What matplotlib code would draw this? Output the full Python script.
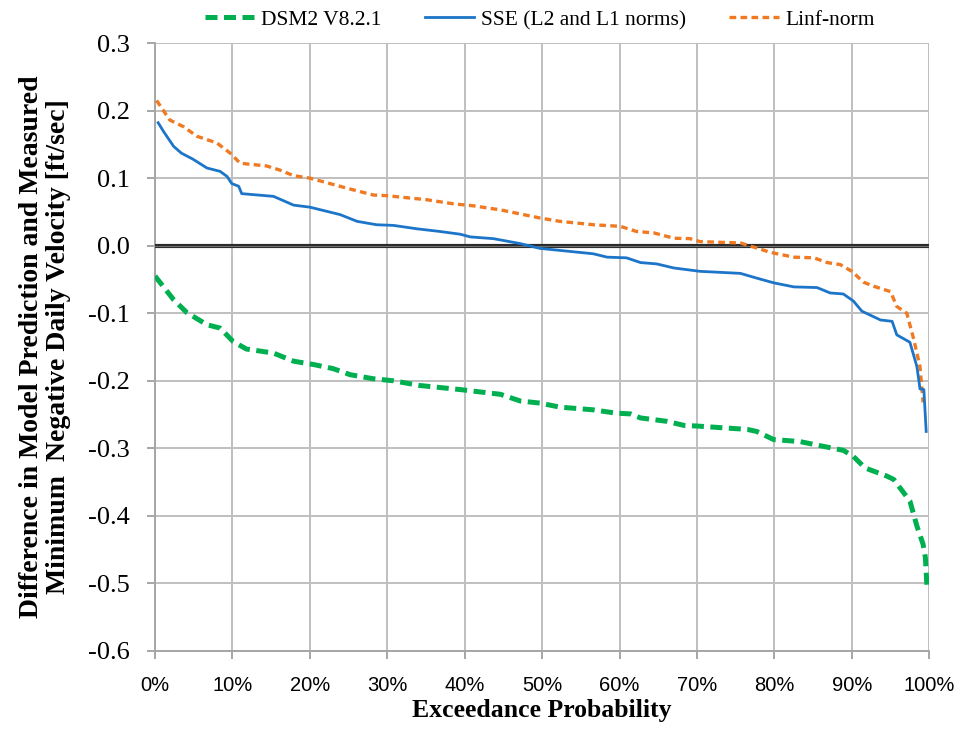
import matplotlib
matplotlib.use("Agg")
import matplotlib.pyplot as plt
from matplotlib.ticker import FuncFormatter, MultipleLocator

# --- data (exceedance probability in %, difference in ft/sec) ---
dsm2_x = [0.0, 2.4, 4.1, 6.7, 8.4, 10.1, 11.8, 15.3, 17.9, 20.5, 23.0, 25.2, 28.2, 30.8,
          34.2, 39.4, 44.6, 47.2, 49.7, 52.3, 56.6, 59.6, 61.4, 62.7, 66.1, 68.3, 70.0,
          76.5, 77.7, 79.9, 83.3, 86.3, 88.9, 90.2, 91.7, 94.5, 95.4, 97.5, 98.4, 99.2,
          99.5, 99.7]
dsm2_y = [-0.045, -0.080, -0.099, -0.117, -0.122, -0.142, -0.153, -0.159, -0.171, -0.176,
          -0.182, -0.191, -0.197, -0.200, -0.207, -0.213, -0.220, -0.230, -0.233, -0.239,
          -0.243, -0.248, -0.249, -0.255, -0.260, -0.266, -0.267, -0.272, -0.275, -0.287,
          -0.290, -0.297, -0.303, -0.312, -0.329, -0.341, -0.346, -0.378, -0.415, -0.442,
          -0.462, -0.505]

sse_x = [0.4, 1.1, 2.4, 3.4, 4.9, 6.7, 8.4, 9.3, 9.9, 10.8, 11.2, 15.3, 17.9, 20.0, 23.9,
         26.1, 28.6, 30.8, 33.8, 36.8, 39.4, 40.7, 43.7, 47.2, 49.7, 52.3, 56.6, 58.4,
         60.9, 62.7, 64.8, 67.0, 70.4, 73.9, 75.6, 77.7, 79.9, 82.5, 85.5, 87.2, 88.9,
         90.2, 91.3, 93.7, 95.2, 95.8, 97.5, 98.4, 98.8, 99.3, 99.6]
sse_y = [0.182, 0.169, 0.147, 0.137, 0.128, 0.115, 0.110, 0.1025, 0.092, 0.088, 0.077,
         0.073, 0.060, 0.057, 0.046, 0.036, 0.031, 0.030, 0.025, 0.021, 0.017, 0.013,
         0.0104, 0.003, -0.004, -0.007, -0.012, -0.017, -0.018, -0.025, -0.027, -0.033,
         -0.038, -0.040, -0.041, -0.048, -0.055, -0.061, -0.062, -0.070, -0.0715, -0.082,
         -0.097, -0.110, -0.112, -0.132, -0.143, -0.179, -0.212, -0.213, -0.275]

linf_x = [0.2, 1.9, 3.7, 5.4, 8.0, 9.7, 11.0, 14.4, 16.1, 17.9, 20.0, 24.8, 28.2, 29.9,
          35.1, 38.5, 41.1, 44.6, 49.7, 52.3, 56.6, 60.1, 62.2, 64.4, 67.0, 69.1, 70.4,
          75.6, 77.3, 79.5, 82.5, 85.1, 86.8, 88.5, 90.0, 91.5, 92.8, 95.0, 95.8, 97.1,
          98.0, 98.8, 99.2]
linf_y = [0.215, 0.186, 0.176, 0.162, 0.152, 0.137, 0.122, 0.118, 0.112, 0.1036, 0.100,
          0.085, 0.075, 0.074, 0.068, 0.062, 0.059, 0.053, 0.041, 0.036, 0.031, 0.0286,
          0.021, 0.019, 0.011, 0.0104, 0.006, 0.004, -0.002, -0.010, -0.017, -0.018,
          -0.025, -0.028, -0.038, -0.054, -0.060, -0.068, -0.090, -0.100, -0.139, -0.179,
          -0.232]

series_labels = ["DSM2 V8.2.1", "SSE (L2 and L1 norms)", "Linf-norm"]
x_label = "Exceedance Probability"
y_label = "Difference in Model Prediction and Measured\nMinimum  Negative Daily Velocity [ft/sec]"

serif = ["Liberation Serif", "DejaVu Serif"]
sans = ["Liberation Sans", "DejaVu Sans"]

fig = plt.figure(figsize=(9.6, 7.29), dpi=100)
ax = fig.add_axes([0.1615, 0.107, 0.8065, 0.834])

grid_c = "#BFBFBF"
ax.plot(dsm2_x, dsm2_y, color="#00B050", lw=3.6, dashes=(2.4, 1.3), label=series_labels[0], zorder=4)
ax.plot(sse_x, sse_y, color="#1C75C8", lw=2.0, label=series_labels[1], zorder=5)
ax.plot(linf_x, linf_y, color="#F07A22", lw=2.4, dashes=(2.0, 1.3), label=series_labels[2], zorder=4)
ax.axhline(0, color="#2A2A2A", lw=3.0, zorder=3)
ax.axhline(0, color="#707070", lw=0.8, zorder=3)

ax.set_xlim(0, 100)
ax.set_ylim(-0.6, 0.3)
ax.xaxis.set_major_locator(MultipleLocator(10))
ax.yaxis.set_major_locator(MultipleLocator(0.1))
ax.xaxis.set_major_formatter(FuncFormatter(lambda v, p: f"{v:.0f}%"))
ax.yaxis.set_major_formatter(FuncFormatter(lambda v, p: f"{v:.1f}"))
ax.grid(True, color=grid_c, lw=1.4)
ax.set_axisbelow(True)
for s in ["top", "right"]:
    ax.spines[s].set_visible(False)
for s in ["left", "bottom"]:
    ax.spines[s].set_color("#A6A6A6")
    ax.spines[s].set_linewidth(1.4)
ax.tick_params(axis="both", color="#A6A6A6", width=1.4, length=6)
ax.tick_params(axis="y", labelsize=19, pad=12)
ax.tick_params(axis="x", labelsize=14.5, pad=12)
for t in ax.get_yticklabels():
    t.set_family(serif)
for t in ax.get_xticklabels():
    t.set_family(sans)

ax.set_xlabel(x_label, family=serif, fontsize=18.5, fontweight="bold", labelpad=3)
ax.set_ylabel(y_label, family=serif, fontsize=20, fontweight="bold", labelpad=12, linespacing=1.12)

leg = fig.legend(loc="center", bbox_to_anchor=(0.5625, 0.9726), ncol=3, frameon=False,
                 prop={"family": serif, "size": 15.5}, handlelength=2.3, columnspacing=2.0,
                 handletextpad=0.3, borderpad=0.1)

fig.savefig("out.png", dpi=100)
